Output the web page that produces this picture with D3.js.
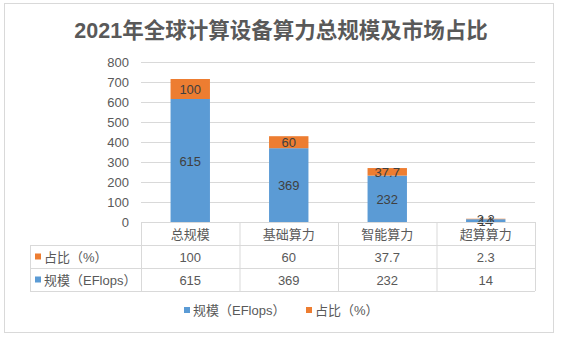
<!DOCTYPE html>
<html><head><meta charset="utf-8">
<script src="https://cdn.jsdelivr.net/npm/d3@7/dist/d3.min.js"></script>
<style>body{margin:0;background:#fff}text{font-family:"Liberation Sans","Noto Sans CJK SC",sans-serif}</style>
</head><body><svg id="c" width="562" height="338"></svg>
<script>
const title = "2021年全球计算设备算力总规模及市场占比";
const categories = ["总规模","基础算力","智能算力","超算算力"];
const scaleValues = [615,369,232,14];
const shareValues = [100,60,37.7,2.3];
const seriesNames = ["规模（EFlops）","占比（%）"];
const colors = ["#5B9BD5","#ED7D31"];
const yTicks = [0,100,200,300,400,500,600,700,800];

const svg = d3.select("#c");
svg.append("rect").attr("x",4.5).attr("y",3.5).attr("width",549).attr("height",329)
  .attr("fill","#fff").attr("stroke","#D9D9D9");
svg.append("text").attr("x",281).attr("y",38).attr("text-anchor","middle")
  .attr("font-size",21.5).attr("font-weight","bold").attr("fill","#595959").text(title);

const L=141,R=535,T=62,B=222;
const x=d3.scaleBand().domain(categories).range([L,R]).paddingInner(0.6).paddingOuter(0.3);
const xc=d3.scaleBand().domain(categories).range([L,R]);
const y=d3.scaleLinear().domain([0,800]).range([B,T]);

const yAxis=svg.append("g").attr("transform",`translate(${L},0)`)
  .call(d3.axisLeft(y).tickValues(yTicks).tickSize(-(R-L)).tickPadding(12));
yAxis.select(".domain").remove();
yAxis.selectAll("line").attr("stroke","#D9D9D9");
yAxis.selectAll("text").attr("font-size",13).attr("fill","#595959");

const stack=categories.map((c,i)=>({c,s:scaleValues[i],p:shareValues[i]}));
const g=svg.append("g");
g.selectAll(".b").data(stack).join("rect").attr("x",d=>x(d.c)).attr("width",x.bandwidth())
  .attr("y",d=>y(d.s)).attr("height",d=>y(0)-y(d.s)).attr("fill",colors[0]);
g.selectAll(".o").data(stack).join("rect").attr("x",d=>x(d.c)).attr("width",x.bandwidth())
  .attr("y",d=>y(d.s+d.p)).attr("height",d=>y(d.s)-y(d.s+d.p)).attr("fill",colors[1]);
g.selectAll(".lb").data(stack).join("text").attr("x",d=>x(d.c)+x.bandwidth()/2)
  .attr("y",d=>(y(d.s)+y(0))/2+5).attr("text-anchor","middle").attr("font-size",13)
  .attr("fill","#404040").text(d=>d.s);
g.selectAll(".lo").data(stack).join("text").attr("x",d=>x(d.c)+x.bandwidth()/2)
  .attr("y",d=>(y(d.s+d.p)+y(d.s))/2+5).attr("text-anchor","middle").attr("font-size",13)
  .attr("fill","#404040").text(d=>d.p);

// data table
const rowH=23, tL=30;
const rows=[{name:seriesNames[1],vals:shareValues,col:colors[1]},{name:seriesNames[0],vals:scaleValues,col:colors[0]}];
const tb=svg.append("g").attr("stroke","#D9D9D9").attr("fill","none");
tb.append("line").attr("x1",L).attr("x2",R).attr("y1",B+0.5).attr("y2",B+0.5);
[1,2,3].forEach(k=>tb.append("line").attr("x1",tL).attr("x2",R).attr("y1",B+k*rowH+0.5).attr("y2",B+k*rowH+0.5));
categories.forEach(c=>tb.append("line").attr("x1",xc(c)+0.5).attr("x2",xc(c)+0.5).attr("y1",B).attr("y2",B+3*rowH));
tb.append("line").attr("x1",R+0.5).attr("x2",R+0.5).attr("y1",B).attr("y2",B+3*rowH);
tb.append("line").attr("x1",tL+0.5).attr("x2",tL+0.5).attr("y1",B+rowH).attr("y2",B+3*rowH);
svg.selectAll(".cat").data(categories).join("text").attr("x",d=>xc(d)+xc.bandwidth()/2)
  .attr("y",B+rowH/2+5).attr("text-anchor","middle").attr("font-size",13).attr("fill","#595959").text(d=>d);
rows.forEach((r,i)=>{
  const yy=B+(i+1)*rowH+rowH/2;
  svg.append("rect").attr("x",tL+5).attr("y",yy-3).attr("width",6).attr("height",6).attr("fill",r.col);
  svg.append("text").attr("x",tL+14).attr("y",yy+5).attr("font-size",13).attr("fill","#595959").text(r.name);
  svg.selectAll(null).data(categories).join("text").attr("x",d=>xc(d)+xc.bandwidth()/2)
    .attr("y",yy+5).attr("text-anchor","middle").attr("font-size",13).attr("fill","#595959")
    .text((d,j)=>r.vals[j]);
});

// legend
const lg=svg.append("g");
[[184,0],[306,1]].forEach(([lx,i])=>{
  lg.append("rect").attr("x",lx).attr("y",307).attr("width",6).attr("height",6).attr("fill",colors[i]);
  lg.append("text").attr("x",lx+9).attr("y",315).attr("font-size",13).attr("fill","#595959").text(seriesNames[i]);
});
</script></body></html>
